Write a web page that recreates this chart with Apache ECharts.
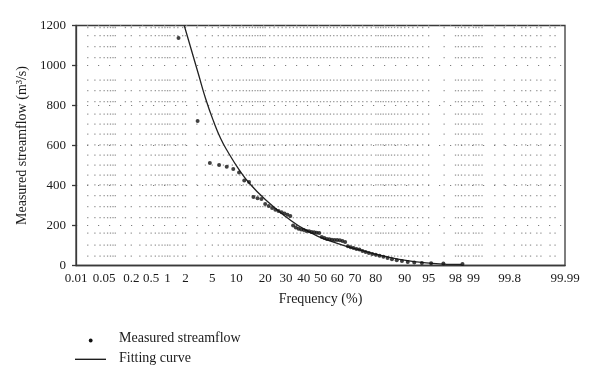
<!DOCTYPE html>
<html><head><meta charset="utf-8">
<script src="https://cdn.jsdelivr.net/npm/echarts@6/dist/echarts.min.js"></script>
<style>html,body{margin:0;padding:0;background:#fff}#c{width:600px;height:389px}</style>
</head><body><div id="c"></div>
<script>
// ---- data ----
const freqTickLabels = ['0.01','0.05','0.2','0.5','1','2','5','10','20','30','40','50','60','70','80','90','95','98','99','99.8','99.99'];
const flowTicks = [0, 200, 400, 600, 800, 1000, 1200];

const measuredFreq = [1.54,3.08,4.62,6.15,7.69,9.23,10.77,12.31,13.85,15.38,16.92,18.46,20.00,21.54,23.08,24.62,26.15,27.69,29.23,30.77,32.31,33.85,35.38,36.92,38.46,40.00,41.54,43.08,44.62,46.15,47.69,49.23,50.77,52.31,53.85,55.38,56.92,58.46,60.00,61.54,63.08,64.62,66.15,67.69,69.23,70.77,72.31,73.85,75.38,76.92,78.46,80.00,81.54,83.08,84.62,86.15,87.69,89.23,90.77,92.31,93.85,95.38,96.92,98.46];
const measuredFlow = [1137,722,512,503,494,483,465,425,417,342,336,332,308,298,288,279,272,266,260,254,248,200,190,184,180,177,173,171,168,166,164,162,142,137,133,131,129,127,127,126,122,118,96,91,87,83,80,72,68,63,58,54,49,44,37,31,26,22,17,15,13,11,10,8];

const curveFreq = [1.91,2.49,3.18,4.02,5.20,6.44,7.90,10.67,13.74,20.27,29.91,41.25,56.97,75.65,88.46,95.56,98.40];
const curveFlow = [1200,1075,955,835,720,635,570,482,415,327,244,177,119,69,31,11,5];

// probability-paper background dot grid
const paperFreq = [0.02,0.03,0.04,0.05,0.06,0.07,0.08,0.09,0.15,0.2,0.3,0.4,0.5,0.6,0.7,0.8,0.9,1,1.1,1.3,1.5,1.8,2,3,4,5,6,7,8,9,10,11,12,13,14,15,16,17,18,19,20,22,24,26,28,30,32,34,36,38,40,42,44,46,48,50,52,54,56,58,60,62,64,66,68,70,72,74,76,78,80,81,82,83,84,85,86,87,88,89,90,91,92,93,94,95,97,98,98.2,98.4,98.6,98.8,99,99.1,99.2,99.3,99.6,99.74,99.84,99.89,99.91,99.93,99.95,99.96,99.976,99.982];
const paperFlow = [1190,1149,1094,1039,927,874,819,757,707,657,603,552,502,452,403,349,294,239,162,102,47];

// ---- normal probability scale ----
function normInv(p){
  const a=[-3.969683028665376e+01,2.209460984245205e+02,-2.759285104469687e+02,1.383577518672690e+02,-3.066479806614716e+01,2.506628277459239e+00];
  const b=[-5.447609879822406e+01,1.615858368580409e+02,-1.556989798598866e+02,6.680131188771972e+01,-1.328068155288572e+01];
  const c=[-7.784894002430293e-03,-3.223964580411365e-01,-2.400758277161838e+00,-2.549732539343734e+00,4.374664141464968e+00,2.938163982698783e+00];
  const d=[7.784695709041462e-03,3.224671290700398e-01,2.445134137142996e+00,3.754408661907416e+00];
  const pl=0.02425, ph=1-pl; let q,r;
  if(p<pl){q=Math.sqrt(-2*Math.log(p));return (((((c[0]*q+c[1])*q+c[2])*q+c[3])*q+c[4])*q+c[5])/((((d[0]*q+d[1])*q+d[2])*q+d[3])*q+1);}
  if(p<=ph){q=p-0.5;r=q*q;return (((((a[0]*r+a[1])*r+a[2])*r+a[3])*r+a[4])*r+a[5])*q/(((((b[0]*r+b[1])*r+b[2])*r+b[3])*r+b[4])*r+1);}
  q=Math.sqrt(-2*Math.log(1-p));return -(((((c[0]*q+c[1])*q+c[2])*q+c[3])*q+c[4])*q+c[5])/((((d[0]*q+d[1])*q+d[2])*q+d[3])*q+1);
}
const zOf = pct => normInv(pct/100);
const tickZ = freqTickLabels.map(s => zOf(parseFloat(s)));

const paperDots = [];
paperFreq.forEach(f => paperFlow.forEach(v => paperDots.push([zOf(f), v])));

const FONT = 'Liberation Serif';
const chart = echarts.init(document.getElementById('c'), null, {renderer:'canvas'});
chart.setOption({
  animation:false,
  backgroundColor:'#fff',
  grid:{left:76, right:35, top:25.5, bottom:123.5, show:true, borderColor:'#3a3a3a', borderWidth:1.3, backgroundColor:'transparent'},
  xAxis:{
    type:'value', min:zOf(0.01), max:zOf(99.99),
    name:'Frequency (%)', nameLocation:'middle', nameGap:27,
    nameTextStyle:{fontFamily:FONT, fontSize:14, color:'#1a1a1a'},
    axisLine:{show:true, onZero:false, lineStyle:{color:'#3a3a3a', width:1.3}},
    axisTick:{show:false},
    splitLine:{show:false},
    axisLabel:{customValues:tickZ, showMinLabel:true, showMaxLabel:true, margin:7,
      fontFamily:FONT, fontSize:13, color:'#1a1a1a',
      formatter:function(v){let best=0,bd=1e9;tickZ.forEach((t,i)=>{const d=Math.abs(t-v);if(d<bd){bd=d;best=i;}});return freqTickLabels[best];}}
  },
  yAxis:{
    type:'value', min:flowTicks[0], max:flowTicks[flowTicks.length-1], interval:200,
    name:'Measured streamflow (m³/s)', nameLocation:'middle', nameGap:40,
    nameTextStyle:{fontFamily:FONT, fontSize:14, color:'#1a1a1a'},
    axisLine:{show:true, onZero:false, lineStyle:{color:'#3a3a3a', width:1.3}},
    axisTick:{show:true, inside:false, length:4, lineStyle:{color:'#3a3a3a', width:1.3}},
    splitLine:{show:true, lineStyle:{color:'#7e7e7e', width:1, type:[1.2,9.8]}},
    axisLabel:{margin:10, fontFamily:FONT, fontSize:13, color:'#1a1a1a', formatter:v => String(v)}
  },
  series:[
    {type:'scatter', data:paperDots, symbol:'rect', symbolSize:1.3, silent:true,
     itemStyle:{color:'#7e7e7e'}, z:1},
    {type:'scatter', name:'Measured streamflow', data:measuredFreq.map((f,i)=>[zOf(f), measuredFlow[i]]),
     symbol:'circle', symbolSize:4, itemStyle:{color:'#111'}, z:5},
    {type:'line', name:'Fitting curve', data:curveFreq.map((f,i)=>[zOf(f), curveFlow[i]]),
     symbol:'none', smooth:0.5, lineStyle:{color:'#222', width:1.3}, z:4}
  ],
  graphic:[
    {type:'circle', shape:{cx:90.7, cy:340.5, r:1.9}, style:{fill:'#111'}},
    {type:'text', x:119, y:338, style:{text:'Measured streamflow', font:'14px "Liberation Serif"', fill:'#1a1a1a', verticalAlign:'middle'}},
    {type:'line', shape:{x1:75, y1:359.3, x2:106, y2:359.3}, style:{stroke:'#111', lineWidth:1.3}},
    {type:'text', x:119, y:358, style:{text:'Fitting curve', font:'14px "Liberation Serif"', fill:'#1a1a1a', verticalAlign:'middle'}}
  ]
});
</script></body></html>
